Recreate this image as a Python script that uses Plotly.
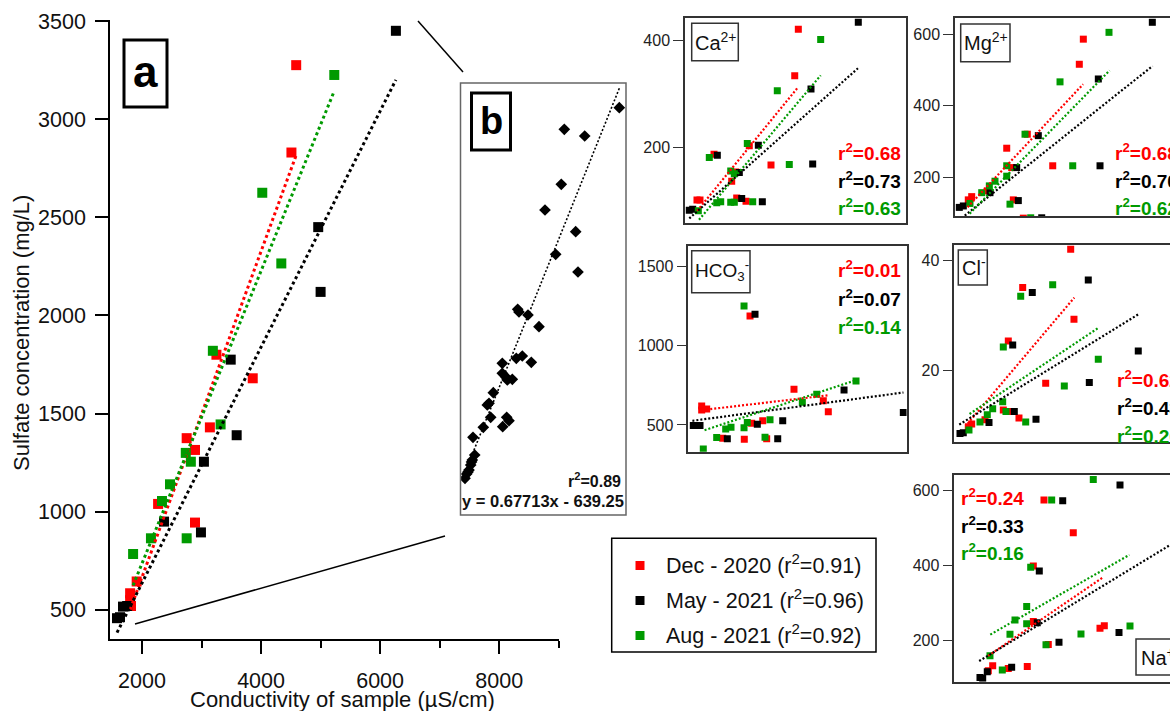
import numpy as np
import plotly.graph_objects as go

W, H = 1170, 711
FONT = "Liberation Sans, Arial, sans-serif"
RED, BLACK, GREEN = "#FF0000", "#000000", "#009A00"
COLORS = [RED, BLACK, GREEN]
CAMPAIGNS = ["Dec - 2020", "May - 2021", "Aug - 2021"]
OVERALL_R2 = ["0.91", "0.96", "0.92"]

# ---------------- panel a : sulfate vs conductivity ----------------
COND_DEC = [1800, 1800, 1815, 1910, 2270, 2750, 2890, 2890, 3140, 3250, 3860, 4510, 4590]
SULF_DEC = [585, 550, 520, 645, 1040, 1375, 1315, 945, 1430, 1800, 1680, 2830, 3275]
COND_MAY = [1580, 1630, 1680, 1750, 2370, 2990, 3040, 3490, 3590, 4960, 5000, 6265]
SULF_MAY = [458, 463, 517, 520, 950, 895, 1255, 1775, 1390, 2450, 2120, 3450]
COND_AUG = [1850, 2150, 2335, 2470, 2735, 2750, 2820, 3190, 3320, 4020, 4340, 5230]
SULF_AUG = [785, 865, 1055, 1140, 1300, 865, 1255, 1820, 1445, 2625, 2265, 3225]
A_SLOPE = [0.83, 0.601, 0.745]
A_INTERCEPT = [-993, -565, -753]

# ---------------- panel b : pooled data ----------------
B_X = [9015, 6386, 7361, 6242, 5463, 6930, 5974, 7040, 4158, 4220, 4650, 5176, 4091, 4378,
       4808, 3422, 3422, 3584, 3661, 3900, 2992, 2705, 2786, 2867, 3632, 3742, 3441, 2514,
       2021, 2103, 1988, 1911, 1830, 1720, 1639, 1950, 1782]
B_Y = [5213, 4932, 4845, 4217, 3883, 3601, 3307, 3077, 2592, 2557, 2518, 2366, 1955, 1985,
       1903, 1890, 1760, 1716, 1673, 1682, 1508, 1348, 1370, 1188, 1188, 1144, 1066, 1058,
       928, 698, 633, 568, 503, 451, 395, 607, 477]
B_SLOPE = 0.67713
B_INTERCEPT = -639.25
B_R2 = "0.89"

# ---------------- ion panels ----------------
CA_DEC_X = [1794, 1878, 2267, 2758, 2870, 2897, 3156, 3247, 3850, 4509, 4609]
CA_DEC_Y = [103, 103, 188, 138, 155, 107, 101, 204, 168, 334, 420]
CA_MAY_X = [1580, 1675, 2359, 2970, 3036, 3498, 3609, 4961, 5008, 6275]
CA_MAY_Y = [84, 86, 186, 154, 106, 205, 100, 309, 170, 433]
CA_AUG_X = [1831, 2136, 2342, 2453, 2731, 2731, 2831, 2831, 3192, 3342, 4025, 4358, 5230]
CA_AUG_Y = [83, 182, 98, 100, 157, 99, 152, 99, 208, 100, 306, 169, 401]
CA_SLOPE = [0.0819, 0.0595, 0.0793]
CA_INTERCEPT = [-64.4, -25.1, -80.3]
CA_R2 = ["0.68", "0.73", "0.63"]

MG_DEC_X = [1817, 1899, 2276, 2745, 2865, 2904, 3146, 3242, 3856, 4498, 4595]
MG_DEC_Y = [138, 147, 163, 282, 228, 138, 87, 321, 233, 516, 586]
MG_MAY_X = [1600, 1697, 2341, 2986, 3025, 3508, 3590, 4957, 4998, 6261]
MG_MAY_Y = [117, 121, 158, 228, 136, 317, 88, 475, 233, 633]
MG_AUG_X = [1858, 2141, 2325, 2462, 2745, 2745, 2824, 3187, 3324, 4032, 4339, 5215]
MG_AUG_Y = [128, 158, 177, 190, 233, 204, 126, 321, 88, 467, 233, 605]
MG_SLOPE = [0.1229, 0.0920, 0.1181]
MG_INTERCEPT = [-103.6, -65.2, -118.9]
MG_R2 = ["0.68", "0.70", "0.62"]

HC_DEC_X = [1786, 1786, 1897, 2253, 2732, 2859, 2896, 3141, 3229, 3835, 4486, 4597]
HC_DEC_Y = [620, 595, 601, 416, 410, 1188, 511, 527, 412, 725, 652, 584]
HC_MAY_X = [1600, 1675, 1749, 2355, 2970, 3021, 3474, 3585, 4946, 6262]
HC_MAY_Y = [496, 496, 496, 412, 1199, 504, 412, 527, 721, 578]
HC_AUG_X = [1822, 2119, 2319, 2437, 2726, 2726, 2799, 3192, 3303, 4020, 4340, 5212]
HC_AUG_Y = [348, 420, 475, 485, 1251, 483, 515, 422, 532, 643, 694, 778]
HC_SLOPE = [0.0333, 0.0381, 0.0940]
HC_INTERCEPT = [534, 466, 293]
HC_R2 = ["0.01", "0.07", "0.14"]

CL_DEC_X = [1817, 1906, 2254, 2733, 2864, 2864, 3143, 3240, 3842, 4496, 4582]
CL_DEC_Y = [9.6, 10.1, 10.9, 12.7, 12.4, 25.3, 11.2, 35.1, 17.6, 42.1, 29.3]
CL_MAY_X = [1600, 1686, 2359, 2979, 3021, 3491, 3588, 4956, 4983, 6264]
CL_MAY_Y = [8.4, 8.5, 10.4, 24.6, 12.4, 34.2, 11.0, 36.5, 17.7, 23.5]
CL_AUG_X = [1835, 2123, 2314, 2455, 2717, 2733, 2803, 3188, 3319, 4025, 4329, 5218]
CL_AUG_Y = [9.0, 10.5, 11.8, 12.9, 14.2, 24.2, 12.4, 33.5, 10.5, 35.6, 17.1, 22.0]
CL_SLOPE = [0.00827, 0.00431, 0.00468]
CL_INTERCEPT = [-4.7, 3.2, 3.3]
CL_R2 = ["0.62", "0.43", "0.26"]

NA_DEC_X = [1802, 1909, 2288, 2749, 2896, 2896, 3155, 3260, 3867, 4516, 4621]
NA_DEC_Y = [120, 133, 126, 131, 399, 251, 575, 190, 488, 233, 240]
NA_MAY_X = [1600, 1666, 1777, 2370, 2992, 3041, 3520, 3610, 4978, 5002]
NA_MAY_Y = [102, 100, 117, 129, 248, 386, 196, 573, 222, 615]
NA_AUG_X = [1843, 2142, 2329, 2451, 2735, 2735, 2832, 3204, 3342, 4054, 4353, 5245]
NA_AUG_Y = [160, 122, 217, 255, 291, 245, 396, 189, 575, 218, 630, 239]
NA_SLOPE = [0.0751, 0.0667, 0.0629]
NA_INTERCEPT = [24.5, 40.4, 100]
NA_R2 = ["0.24", "0.33", "0.16"]


def PX(x):
    return x / W


def PY(y):
    return 1 - y / H


COND = [COND_DEC, COND_MAY, COND_AUG]
fig = go.Figure()
layout = dict(
    width=W, height=H, autosize=False,
    margin=dict(l=0, r=0, t=0, b=0, pad=0, autoexpand=False),
    paper_bgcolor="white", plot_bgcolor="rgba(0,0,0,0)",
    showlegend=False, font=dict(family=FONT, color="#222"),
)
shapes, annotations = [], []


def add_points(xs_list, ys_list, xa, ya, size, symbol="square"):
    for xs, ys, c in zip(xs_list, ys_list, COLORS):
        fig.add_trace(go.Scatter(x=xs, y=ys, mode="markers", xaxis=xa, yaxis=ya,
                                 marker=dict(symbol=symbol, size=size, color=c, line=dict(width=0)),
                                 hoverinfo="skip"))


def add_fits(slopes, intercepts, xa, ya, width, dash):
    for cond, m, b, c in zip(COND, slopes, intercepts, COLORS):
        xx = np.array([min(cond), max(cond)], dtype=float)
        fig.add_trace(go.Scatter(x=xx, y=m * xx + b, mode="lines", xaxis=xa, yaxis=ya,
                                 line=dict(color=c, width=width, dash=dash), hoverinfo="skip"))


# ---- panel a ----
add_points([COND_DEC, COND_MAY, COND_AUG], [SULF_DEC, SULF_MAY, SULF_AUG], "x", "y", 10)
add_fits(A_SLOPE, A_INTERCEPT, "x", "y", 3, "dot")
layout["xaxis"] = dict(domain=[PX(110), PX(559)], range=[1462, 9005], anchor="y", automargin=False,
                       showline=True, linecolor="black", linewidth=1.5, showgrid=False, zeroline=False,
                       ticks="outside", ticklen=13, tickwidth=1.5, tickcolor="black",
                       tickvals=[2000, 4000, 6000, 8000], ticklabelstandoff=8,
                       tickfont=dict(size=21.5, family=FONT, color="#111"),
                       minor=dict(tickvals=[3000, 5000, 7000, 9000], ticks="outside", ticklen=7,
                                  tickwidth=1.5, tickcolor="black", showgrid=False))
layout["yaxis"] = dict(domain=[PY(639), PY(20)], range=[352, 3505], anchor="x", automargin=False,
                       showline=True, linecolor="black", linewidth=1.5, showgrid=False, zeroline=False,
                       ticks="outside", ticklen=13, tickwidth=1.5, tickcolor="black",
                       tickvals=[500, 1000, 1500, 2000, 2500, 3000, 3500], ticklabelstandoff=5,
                       tickfont=dict(size=21.5, family=FONT, color="#111"))
annotations.append(dict(text="Sulfate concentration (mg/L)", xref="paper", yref="paper",
                        x=PX(21), y=PY(333), textangle=-90, showarrow=False,
                        font=dict(size=22, family=FONT, color="#111"), xanchor="center", yanchor="middle"))
annotations.append(dict(text="Conductivity of sample (µS/cm)", xref="paper", yref="paper",
                        x=PX(342), y=PY(699), showarrow=False,
                        font=dict(size=22, family=FONT, color="#111"), xanchor="center", yanchor="middle"))
shapes.append(dict(type="rect", xref="paper", yref="paper", x0=PX(124), x1=PX(167), y0=PY(107), y1=PY(40),
                   line=dict(color="black", width=3)))
annotations.append(dict(text="<b>a</b>", xref="paper", yref="paper", x=PX(145.5), y=PY(71),
                        showarrow=False, font=dict(size=44, family=FONT, color="black"),
                        xanchor="center", yanchor="middle"))
# zoom connector lines
shapes.append(dict(type="line", xref="paper", yref="paper", x0=PX(418), y0=PY(21), x1=PX(463), y1=PY(72),
                   line=dict(color="black", width=1.5)))
shapes.append(dict(type="line", xref="paper", yref="paper", x0=PX(135), y0=PY(624), x1=PX(445), y1=PY(536),
                   line=dict(color="black", width=1.5)))

# ---- panel b ----
fig.add_trace(go.Scatter(x=B_X, y=B_Y, mode="markers", xaxis="x2", yaxis="y2",
                         marker=dict(symbol="diamond", size=9, color="black", line=dict(width=0)),
                         hoverinfo="skip"))
bx = np.array([min(B_X), max(B_X)], dtype=float)
fig.add_trace(go.Scatter(x=bx, y=B_SLOPE * bx + B_INTERCEPT, mode="lines", xaxis="x2", yaxis="y2",
                         line=dict(color="black", width=1.6, dash="2px,2px"), hoverinfo="skip"))
layout["xaxis2"] = dict(domain=[PX(460), PX(626)], range=[1400, 9335], anchor="y2", visible=False,
                        automargin=False)
layout["yaxis2"] = dict(domain=[PY(515), PY(83)], range=[-82, 5534], anchor="x2", visible=False,
                        automargin=False)
shapes.append(dict(type="rect", xref="paper", yref="paper", x0=PX(460.5), x1=PX(626), y0=PY(515), y1=PY(83),
                   line=dict(color="#666", width=1.5)))
shapes.append(dict(type="rect", xref="paper", yref="paper", x0=PX(471.5), x1=PX(510.5), y0=PY(150), y1=PY(93),
                   line=dict(color="black", width=3)))
annotations.append(dict(text="<b>b</b>", xref="paper", yref="paper", x=PX(491), y=PY(121),
                        showarrow=False, font=dict(size=38, family=FONT, color="black"),
                        xanchor="center", yanchor="middle"))
annotations.append(dict(text="<b>r<sup>2</sup>=" + B_R2 + "</b>", xref="paper", yref="paper",
                        x=PX(623), y=PY(480), showarrow=False, xanchor="right", yanchor="middle",
                        font=dict(size=16, family=FONT, color="#111")))
annotations.append(dict(text="<b>y = %.5fx - %.2f</b>" % (B_SLOPE, -B_INTERCEPT), xref="paper", yref="paper",
                        x=PX(543), y=PY(501), showarrow=False, xanchor="center", yanchor="middle",
                        font=dict(size=16.5, family=FONT, color="#111")))

# ---- ion panels ----
FRAME = "#333"


def ion_panel(n, box, xr, yr, tickvals, xs, ys, slopes, intercepts, r2, r2_pos, r2_anchor,
              label, label_box, label_size=20, cropped=False):
    x0, y0, x1, y1 = box
    xa, ya = "x%d" % n, "y%d" % n
    add_points(xs, ys, xa, ya, 7)
    add_fits(slopes, intercepts, xa, ya, 2.2, "2px,2px")
    layout["xaxis%d" % n] = dict(domain=[PX(x0), min(PX(x1), 1.0)], range=xr, anchor=ya,
                                 automargin=False,
                                 showline=True, linecolor=FRAME, linewidth=1.5, mirror=True,
                                 ticks="", showticklabels=False, showgrid=False, zeroline=False)
    layout["yaxis%d" % n] = dict(domain=[PY(y1), PY(y0)], range=yr, anchor=xa, automargin=False,
                                 showline=True, linecolor=FRAME, linewidth=1.5, mirror=not cropped,
                                 ticks="outside", ticklen=10, tickwidth=1.3, tickcolor=FRAME,
                                 tickvals=tickvals, showgrid=False, zeroline=False,
                                 tickfont=dict(size=16, family=FONT, color="#222"))
    rx, ry0, dy = r2_pos
    for i, (val, c) in enumerate(zip(r2, COLORS)):
        annotations.append(dict(text="<b>r<sup>2</sup>=" + val + "</b>", xref="paper", yref="paper",
                                x=PX(rx), y=PY(ry0 + i * dy), showarrow=False, xanchor=r2_anchor,
                                yanchor="middle", font=dict(size=19, family=FONT, color=c)))
    lx0, ly0, lx1, ly1 = label_box
    shapes.append(dict(type="rect", xref="paper", yref="paper", x0=PX(lx0), x1=PX(lx1),
                       y0=PY(ly1), y1=PY(ly0), line=dict(color=FRAME, width=1.5)))
    annotations.append(dict(text=label, xref="paper", yref="paper", x=PX((lx0 + lx1) / 2 + 1),
                            y=PY((ly0 + ly1) / 2 - 1), showarrow=False, xanchor="center", yanchor="middle",
                            font=dict(size=label_size, family=FONT, color="#111")))


ion_panel(3, (685, 18, 906, 222.7), [1461, 7600], [61, 441], [200, 400],
          [CA_DEC_X, CA_MAY_X, CA_AUG_X], [CA_DEC_Y, CA_MAY_Y, CA_AUG_Y], CA_SLOPE, CA_INTERCEPT,
          CA_R2, (903, 152, 27.5), "right", "Ca<sup>2+</sup>", (691.7, 23.3, 738.3, 60.7))
ion_panel(4, (955, 18, 1170, 216), [1496, 6688], [93, 645], [200, 400, 600],
          [MG_DEC_X, MG_MAY_X, MG_AUG_X], [MG_DEC_Y, MG_MAY_Y, MG_AUG_Y], MG_SLOPE, MG_INTERCEPT,
          MG_R2, (1113, 152, 27.5), "left", "Mg<sup>2+</sup>", (960.7, 24, 1010, 61.7), cropped=True)
ion_panel(5, (688.3, 246, 906.7, 451.7), [1489, 6337], [331, 1630], [500, 1000, 1500],
          [HC_DEC_X, HC_MAY_X, HC_AUG_X], [HC_DEC_Y, HC_MAY_Y, HC_AUG_Y], HC_SLOPE, HC_INTERCEPT,
          HC_R2, (903, 269, 28.5), "right", "HCO<sub>3</sub><sup>-</sup>", (691.7, 250.7, 750, 292.7),
          label_size=19)
ion_panel(6, (954.3, 245, 1170, 442.3), [1451, 7094], [6.77, 42.9], [20, 40],
          [CL_DEC_X, CL_MAY_X, CL_AUG_X], [CL_DEC_Y, CL_MAY_Y, CL_AUG_Y], CL_SLOPE, CL_INTERCEPT,
          CL_R2, (1115, 379, 28), "left", "Cl<sup>-</sup>", (958.3, 250, 987.3, 285), cropped=True)
ion_panel(7, (954.3, 475, 1170, 681.7), [976, 6217], [90.7, 642], [200, 400, 600],
          [NA_DEC_X, NA_MAY_X, NA_AUG_X], [NA_DEC_Y, NA_MAY_Y, NA_AUG_Y], NA_SLOPE, NA_INTERCEPT,
          NA_R2, (959, 497, 27.5), "left", "Na<sup>+</sup>", (1136, 639, 1178, 675), cropped=True)

# ---- legend (drawn manually) ----
shapes.append(dict(type="rect", xref="paper", yref="paper", x0=PX(611.7), x1=PX(876), y0=PY(652), y1=PY(538.3),
                   line=dict(color="black", width=1.5)))
for i, (name, r2, c) in enumerate(zip(CAMPAIGNS, OVERALL_R2, COLORS)):
    yc = 565.5 + i * 35
    shapes.append(dict(type="rect", xref="paper", yref="paper", x0=PX(635.5), x1=PX(644.5),
                       y0=PY(yc + 4.5), y1=PY(yc - 4.5), fillcolor=c, line=dict(width=0)))
    annotations.append(dict(text="%s (r<sup>2</sup>=%s)" % (name, r2), xref="paper", yref="paper",
                            x=PX(664), y=PY(yc - 2), showarrow=False, xanchor="left", yanchor="middle",
                            font=dict(size=21.5, family=FONT, color="#111")))

layout["shapes"] = shapes
layout["annotations"] = annotations
fig.update_layout(**layout)
fig.write_html("out.html")
